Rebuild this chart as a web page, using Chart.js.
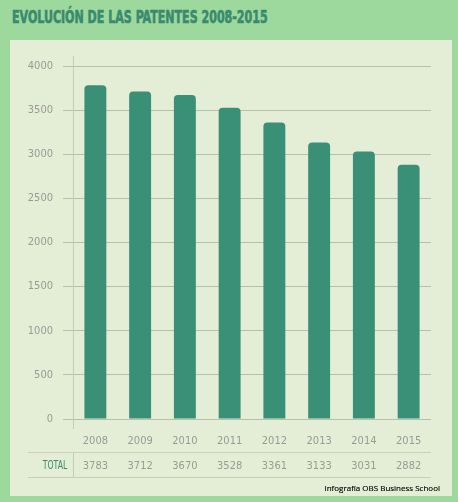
<!DOCTYPE html>
<html>
<head>
<meta charset="utf-8">
<script src="https://cdn.jsdelivr.net/npm/chart.js@4.4.1/dist/chart.umd.min.js"></script>
<style>
  html, body { margin: 0; padding: 0; }
  body { width: 458px; height: 502px; background: #9dd99c; position: relative; overflow: hidden; }
  #title { position: absolute; left: 12px; top: 7px; font-family: "DejaVu Sans Condensed", "DejaVu Sans", sans-serif; font-weight: bold; font-size: 17px; color: #3a8a6e; -webkit-text-stroke: 0.6px #3a8a6e; white-space: nowrap; transform-origin: 0 0; }
  #panel { position: absolute; left: 10px; top: 40px; width: 442px; height: 456px; background: #e4eed6; }
  #chartBox { position: absolute; left: 0; top: 0; width: 442px; height: 456px; }
  #source { position: absolute; right: 12px; bottom: 3px; font-family: "Open Sans", sans-serif; font-size: 8px; color: #000; -webkit-text-stroke: 0.15px #000; white-space: nowrap; }
</style>
</head>
<body>
<div id="title">EVOLUCIÓN DE LAS PATENTES 2008-2015</div>
<div id="panel">
  <div id="chartBox"><canvas id="patChart"></canvas></div>
  <div id="source">Infografía OBS Business School</div>
</div>
<script>
// data
var years = ['2008', '2009', '2010', '2011', '2012', '2013', '2014', '2015'];
var totals = [3783, 3712, 3670, 3528, 3361, 3133, 3031, 2882];
var yTicks = [0, 500, 1000, 1500, 2000, 2500, 3000, 3500, 4000];
var rowLabel = 'TOTAL';

var narrowFont = '"DejaVu Sans Condensed", sans-serif';
var lineColor = '#b7c0aa';

// squeeze the title to the width of the original condensed font
var title = document.getElementById('title');
title.style.transform = 'scaleX(' + (256 / title.offsetWidth) + ')';

// draws the y axis line and the TOTAL row under the years
var totalRow = {
  id: 'totalRow',
  afterDraw: function(chart) {
    var ctx = chart.ctx;
    var area = chart.chartArea;
    var xs = chart.scales.x;
    var rowTop = 412, rowBottom = 437;

    ctx.save();
    ctx.strokeStyle = '#c3cab6';
    ctx.lineWidth = 1;
    ctx.beginPath();
    ctx.moveTo(area.left + 0.5, area.top - 10);
    ctx.lineTo(area.left + 0.5, area.bottom + 10);
    ctx.moveTo(area.left + 0.5, rowTop);
    ctx.lineTo(area.left + 0.5, rowBottom);
    ctx.stroke();

    ctx.strokeStyle = '#c8cfbc';
    ctx.beginPath();
    ctx.moveTo(18, rowTop + 0.5);
    ctx.lineTo(area.right, rowTop + 0.5);
    ctx.moveTo(18, rowBottom + 0.5);
    ctx.lineTo(area.right, rowBottom + 0.5);
    ctx.stroke();

    ctx.textAlign = 'center';
    ctx.textBaseline = 'middle';
    ctx.font = '12px ' + narrowFont;
    ctx.fillStyle = '#3a8a6e';
    ctx.save();
    ctx.translate(45, 426);
    ctx.scale(0.72, 1);
    ctx.fillText(rowLabel, 0, 0);
    ctx.restore();

    ctx.font = '11px ' + narrowFont;
    ctx.fillStyle = '#9a9a94';
    for (var i = 0; i < totals.length; i++) {
      ctx.fillText(String(totals[i]), xs.getPixelForValue(i), 426);
    }
    ctx.restore();
  }
};

var config = {
  type: 'bar',
  data: {
    labels: years,
    datasets: [{
      label: rowLabel,
      data: totals,
      backgroundColor: '#3a8f77',
      borderRadius: { topLeft: 4, topRight: 4, bottomLeft: 0, bottomRight: 0 },
      borderSkipped: 'bottom',
      barPercentage: 0.49,
      categoryPercentage: 1.0
    }]
  },
  options: {
    responsive: true,
    maintainAspectRatio: false,
    animation: false,
    layout: { padding: { left: 3, right: 21, top: 26, bottom: 47 } },
    plugins: { legend: { display: false }, tooltip: { enabled: false } },
    scales: {
      x: {
        grid: { display: false },
        border: { display: false },
        ticks: { color: '#9a9a94', font: { family: narrowFont, size: 11 }, padding: 8 },
        afterFit: function(scale) { scale.height = 30; }
      },
      y: {
        min: 0,
        max: 4000,
        afterBuildTicks: function(scale) {
          scale.ticks = yTicks.map(function(v) { return { value: v }; });
        },
        grid: { color: lineColor, lineWidth: 1, tickLength: 10, drawTicks: true },
        border: { display: false },
        ticks: {
          color: '#9a9a94',
          font: { family: narrowFont, size: 11 },
          padding: 10,
          callback: function(value) { return String(value); }
        },
        afterFit: function(scale) { scale.width = 60; }
      }
    }
  },
  plugins: [totalRow]
};

new Chart(document.getElementById('patChart'), config);
</script>
</body>
</html>
